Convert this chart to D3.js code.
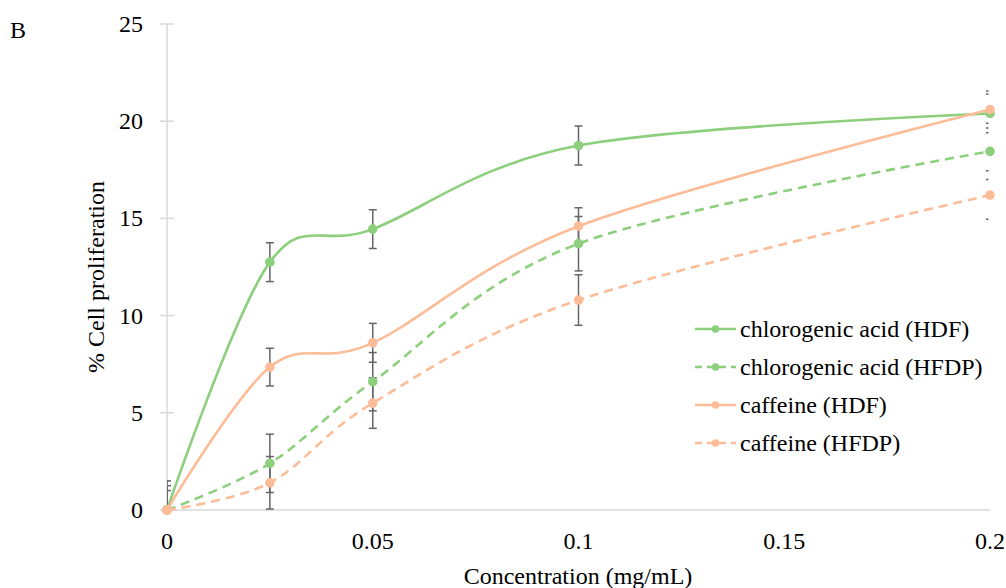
<!DOCTYPE html>
<html><head><meta charset="utf-8">
<script src="https://cdn.jsdelivr.net/npm/d3@7"></script>
<style>body{margin:0;background:#fff}svg{display:block}</style>
</head><body><svg id="c" width="1006" height="588"></svg>
<script>
const concentrations = [0, 0.025, 0.05, 0.1, 0.2];
const seriesNames = ["chlorogenic acid (HDF)", "chlorogenic acid (HFDP)", "caffeine (HDF)", "caffeine (HFDP)"];
const chlorogenicHDF = [0, 12.75, 14.45, 18.75, 20.4];
const chlorogenicHFDP = [0, 2.4, 6.6, 13.7, 18.45];
const caffeineHDF = [0, 7.35, 8.6, 14.6, 20.6];
const caffeineHFDP = [0, 1.4, 5.5, 10.8, 16.2];
const chlorogenicHDFErr = [1.0, 1.0, 1.0, 1.0, 1.0];
const chlorogenicHFDPErr = [1.5, 1.5, 1.5, 1.4, 1.45];
const caffeineHDFErr = [1.25, 0.97, 1.0, 0.95, 0.95];
const caffeineHFDPErr = [0, 1.35, 1.3, 1.3, 1.25];
const xTicks = [0, 0.05, 0.1, 0.15, 0.2];
const yTicks = [0, 5, 10, 15, 20, 25];
const colors = ["#8ccf7c", "#8ccf7c", "#fcbc98", "#fcbc98"];
const dashed = [false, true, false, true];

const series = [
  {name: seriesNames[0], v: chlorogenicHDF, e: chlorogenicHDFErr},
  {name: seriesNames[1], v: chlorogenicHFDP, e: chlorogenicHFDPErr},
  {name: seriesNames[2], v: caffeineHDF, e: caffeineHDFErr},
  {name: seriesNames[3], v: caffeineHFDP, e: caffeineHFDPErr}
];

const FONT = "'Liberation Serif', serif";
const svg = d3.select("#c");
const L = 167, R = 990, T = 24, B = 510;
const x = d3.scaleLinear().domain([0, 0.2]).range([L, R]);
const y = d3.scaleLinear().domain([0, 25]).range([B, T]);
const txt = (g) => g.append("text").attr("font-family", FONT).attr("font-size", 24).attr("fill", "#000");

txt(svg).attr("x", 10).attr("y", 38).text("B");

// axes
svg.append("line").attr("x1", L).attr("x2", L).attr("y1", T).attr("y2", B).attr("stroke", "#d9d9d9").attr("stroke-width", 1.5);
svg.append("line").attr("x1", L).attr("x2", R).attr("y1", B).attr("y2", B).attr("stroke", "#d9d9d9").attr("stroke-width", 1.5);
yTicks.forEach(t => {
  svg.append("line").attr("x1", L - 7).attr("x2", L + 7).attr("y1", y(t)).attr("y2", y(t)).attr("stroke", "#d9d9d9").attr("stroke-width", 1.5);
  txt(svg).attr("x", 143).attr("y", y(t) + 8).attr("text-anchor", "end").text(t);
});
xTicks.forEach(t => {
  txt(svg).attr("x", x(t)).attr("y", 549).attr("text-anchor", "middle").text(t);
});
txt(svg).attr("x", 578).attr("y", 584).attr("text-anchor", "middle").text("Concentration (mg/mL)");
txt(svg).attr("transform", "translate(104,277) rotate(-90)").attr("text-anchor", "middle").text("% Cell proliferation");

// clip for error bars
svg.append("clipPath").attr("id", "pc").append("rect").attr("x", L).attr("y", T - 5).attr("width", R - L - 1.5).attr("height", B - T + 5);

const eg = svg.append("g").attr("clip-path", "url(#pc)");
series.forEach(s => {
  s.v.forEach((v, i) => {
    if (!s.e[i]) return;
    const cx = x(concentrations[i]);
    const y1 = y(v + s.e[i]), y2 = y(v - s.e[i]);
    eg.append("line").attr("x1", cx).attr("x2", cx).attr("y1", y1).attr("y2", y2).attr("stroke", "#666").attr("stroke-width", 1.5);
    [y1, y2].forEach(yy => eg.append("line").attr("x1", cx - 4).attr("x2", cx + 4).attr("y1", yy).attr("y2", yy).attr("stroke", "#666").attr("stroke-width", 1.5));
  });
});

const line = d3.line().x((d, i) => x(concentrations[i])).y(d => y(d)).curve(d3.curveCardinal.tension(0));
series.forEach((s, k) => {
  svg.append("path").attr("d", line(s.v)).attr("fill", "none").attr("stroke", colors[k]).attr("stroke-width", 2.6)
    .attr("stroke-dasharray", dashed[k] ? "9,6" : null);
  s.v.forEach((v, i) => svg.append("circle").attr("cx", x(concentrations[i])).attr("cy", y(v)).attr("r", 4.8).attr("fill", colors[k]));
});

// legend
series.forEach((s, k) => {
  const ly = 329 + k * 38;
  svg.append("line").attr("x1", 695).attr("x2", 736).attr("y1", ly).attr("y2", ly).attr("stroke", colors[k]).attr("stroke-width", 2.6)
    .attr("stroke-dasharray", dashed[k] ? "7,5" : null);
  svg.append("circle").attr("cx", 715.5).attr("cy", ly).attr("r", 3.8).attr("fill", colors[k]);
  txt(svg).attr("x", 740).attr("y", ly + 8).text(s.name);
});
</script></body></html>
